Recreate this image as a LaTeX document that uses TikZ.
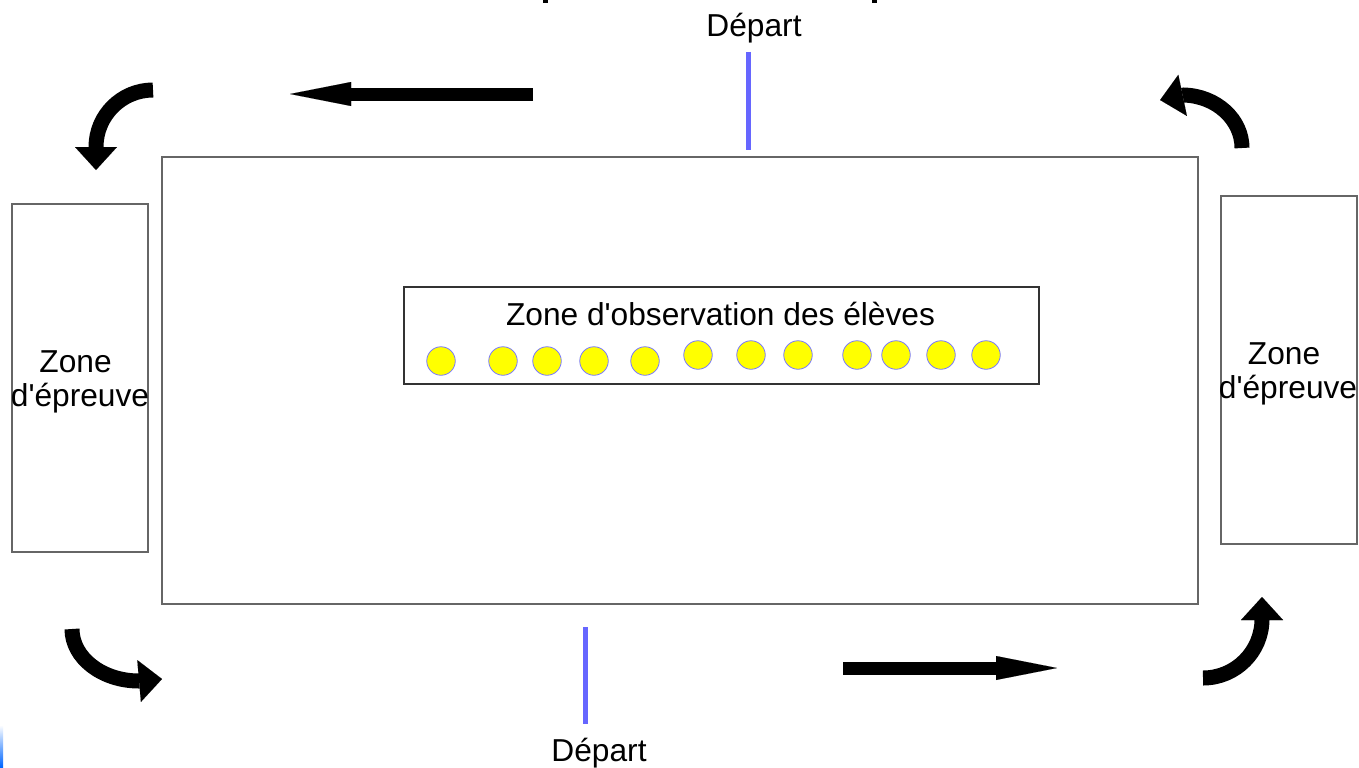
\documentclass[tikz,border=0pt]{standalone}
\usepackage{fontspec}
\setmainfont{Liberation Sans}
\usetikzlibrary{arrows.meta}
\definecolor{boxgray}{HTML}{666666}
\definecolor{innergray}{HTML}{333333}
\definecolor{departblue}{HTML}{6666FF}
\definecolor{dotedge}{HTML}{7777FF}
\definecolor{dotfill}{HTML}{FFFF00}
\definecolor{edgeblue}{HTML}{0066FF}
\tikzset{
  zonebox/.style={draw=boxgray, line width=1.2bp},
  innerbox/.style={draw=innergray, line width=1.2bp},
  lbl/.style={font=\fontsize{31.7bp}{34bp}\selectfont, inner sep=0pt, anchor=base},
  startline/.style={draw=departblue, line width=5bp},
  fatarrow/.style={line width=13bp, -{Triangle[length=61bp,width=24bp,line width=0.01bp]}},
  bentarrow/.style={line width=15bp, -{Triangle[length=23bp,width=42bp,line width=0.01bp]}},
  pupil/.style={circle, draw=dotedge, fill=dotfill, line width=0.8bp, minimum size=28.5bp, inner sep=0pt},
}
\begin{document}
\begin{tikzpicture}[x=1bp, y=-1bp]
\useasboundingbox (0,0) rectangle (1359,767);
\fill[white] (0,0) rectangle (1359,767);

% cut-off title descenders
\fill[black] (543,0) rectangle (548,3);
\fill[black] (872,0) rectangle (877,3);
% blue edge bottom left
\shade[top color=white, bottom color=edgeblue] (0,725) rectangle (3,767);

% areas
\draw[zonebox] (162,157) rectangle (1198,604);
\draw[zonebox] (12,204) rectangle (148,552);
\draw[zonebox] (1221,196) rectangle (1357,544);
\draw[innerbox] (404,287) rectangle (1039,384);

% labels
\node[lbl] (title) at (720.5,325) {Zone d\textquotesingle observation des élèves};
\node[lbl] (zoneL1) at (75.6,372) {Zone};
\node[lbl] (zoneL2) at (80,406) {d\textquotesingle épreuve};
\node[lbl] (zoneR1) at (1284,364) {Zone};
\node[lbl] (zoneR2) at (1288,398) {d\textquotesingle épreuve};
\node[lbl] (departTop) at (754,37) {Départ};
\node[lbl] (departBot) at (599,761) {Départ};

% start lines
\coordinate (sTopA) at (748,52);
\coordinate (sTopB) at (748,150);
\coordinate (sBotA) at (585,627);
\coordinate (sBotB) at (585,724);
\draw[startline] (sTopA) -- (sTopB);
\draw[startline] (sBotA) -- (sBotB);

% pupils
\foreach \px/\py [count=\i] in {441/361,503/361,547/361,594/361,645/361,698/355,751/355,798/355,857/355,896/355,941/355,986/355}
  \node[pupil] (p\i) at (\px,\py) {};

% straight arrows
\coordinate (aTopS) at (533,94);
\coordinate (aTopE) at (290,94);
\coordinate (aBotS) at (843,668);
\coordinate (aBotE) at (1057,668);
\draw[fatarrow] (aTopS) -- (aTopE);
\draw[fatarrow] (aBotS) -- (aBotE);

% curved arrows
\coordinate (cTL) at (153,90);
\coordinate (cTR) at (1242,148);
\coordinate (cBR) at (1203,678);
\coordinate (cBL) at (72,629);
\draw[bentarrow] (cTL) arc[start angle=-90, end angle=-180, radius=57] -- ++(0,23);
\draw[bentarrow] (cTR) arc[start angle=0, end angle=-88, x radius=60, y radius=53] -- ++(-24,5);
\draw[bentarrow] (cBR) arc[start angle=90, end angle=0, radius=59] -- ++(0,-22);
\draw[bentarrow] (cBL) arc[start angle=180, end angle=90, x radius=67, y radius=52] -- ++(23,-2);
\end{tikzpicture}
\end{document}
